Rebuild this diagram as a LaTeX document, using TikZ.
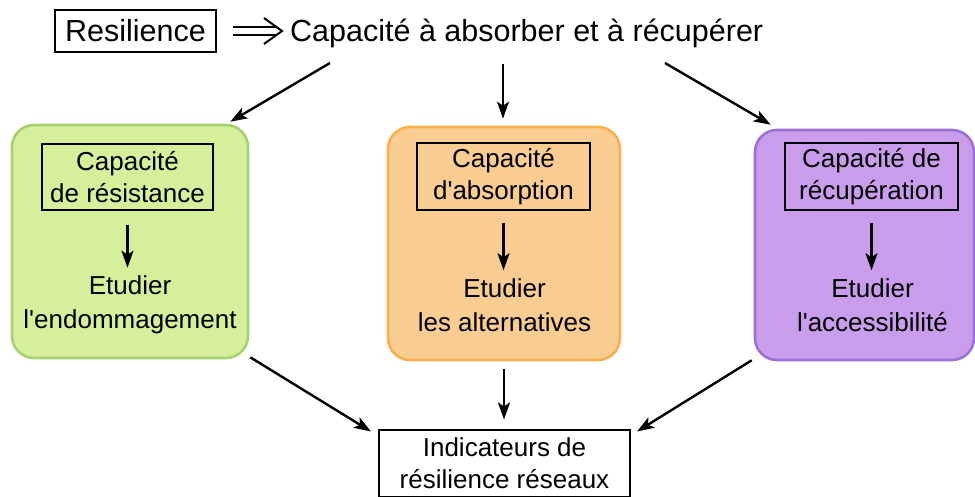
\documentclass[tikz,border=0pt]{standalone}
\usepackage{fontspec}
\setmainfont{Liberation Sans}
\usetikzlibrary{arrows.meta,calc}
\definecolor{gfill}{HTML}{D5EF9B}
\definecolor{gline}{HTML}{A5D170}
\definecolor{ofill}{HTML}{F9CC91}
\definecolor{oline}{HTML}{F6B04E}
\definecolor{pfill}{HTML}{C99DEB}
\definecolor{pline}{HTML}{9D70D6}
\tikzset{
  bigtxt/.style={font=\fontsize{30.5}{36}\selectfont},
  txt/.style={font=\fontsize{26}{32}\selectfont, align=center, inner sep=0pt},
  group/.style={rounded corners=22pt, line width=2.6pt, inner sep=0pt},
  capbox/.style={draw=black, line width=2pt, txt},
  arr/.style={-{Stealth[length=17pt,width=12pt,inset=4pt]}, line width=2.4pt},
  implies/.style={line width=2pt},
}
\begin{document}
\begin{tikzpicture}[x=1pt,y=-1pt]
\useasboundingbox (0,0) rectangle (975,497);
% top
\node[draw, line width=2pt, bigtxt, minimum width=161pt, minimum height=42pt, inner sep=0pt] (res) at (135.5,31) {Resilience};
\node[bigtxt, anchor=west, inner sep=0pt] (cap) at (290,33) {Capacité à absorber et à récupérer};
% double implication arrow from res to cap
\draw[implies] ([shift={(16,-4)}]res.east) -- ([shift={(59,-4)}]res.east);
\draw[implies] ([shift={(16,4)}]res.east) -- ([shift={(59,4)}]res.east);
\draw[implies, line join=miter] ([shift={(47,-13)}]res.east) -- ([shift={(65,0)}]res.east) -- ([shift={(47,13)}]res.east);
% groups
\node[group, draw=gline, fill=gfill, minimum width=236pt, minimum height=233pt] (g) at (130,241.5) {};
\node[group, draw=oline, fill=ofill, minimum width=232pt, minimum height=233pt] (o) at (504,243.5) {};
\node[group, draw=pline, fill=pfill, minimum width=219pt, minimum height=230pt] (p) at (864.5,245) {};
% inner boxes
\node[capbox, minimum width=171pt, minimum height=66pt] (gi) at (127.5,177) {Capacité\\de résistance};
\node[capbox, minimum width=173pt, minimum height=67pt] (oi) at (503.5,176.5) {Capacité\\d\textquotesingle absorption};
\node[capbox, minimum width=173pt, minimum height=67pt] (pi) at (871.5,176.5) {Capacité de\\récupération};
% texts
\node[txt, font=\fontsize{26}{34}\selectfont] (ge) at (130,305) {Etudier\\l\textquotesingle endommagement};
\node[txt, font=\fontsize{26}{34}\selectfont] (oe) at (504.5,305) {Etudier\\les alternatives};
\node[txt, font=\fontsize{26}{34}\selectfont] (pe) at (872.5,305) {Etudier\\l\textquotesingle accessibilité};
% bottom
\node[capbox, minimum width=251pt, minimum height=67pt] (ind) at (504.5,463) {Indicateurs de\\résilience réseaux};
% inner arrows
\draw[arr, shorten <=14pt, shorten >=8pt] (gi.south) -- (gi.south |- ge.north);
\draw[arr, shorten <=12pt, shorten >=8pt] (oi.south) -- (oi.south |- oe.north);
\draw[arr, shorten <=12pt, shorten >=8pt] (pi.south) -- (pi.south |- pe.north);
% top arrows
\coordinate (c1) at (330,63);
\coordinate (c2) at (503,64);
\coordinate (c3) at (665,63);
\draw[arr] (c1) -- ([shift={(-19,-2)}]g.north east);
\draw[arr, shorten >=7pt] (c2) -- (c2 |- o.north);
\draw[arr] (c3) -- ([shift={(17,-4)}]p.north west);
% bottom arrows
\draw[arr] ([shift={(1,-2)}]g.south east) -- ([shift={(-7,3)}]ind.north west);
\draw[arr, shorten <=8pt, shorten >=9pt] (o.south) -- (o.south |- ind.north);
\draw[arr] ([shift={(-2,-1)}]p.south west) -- ([shift={(6,3)}]ind.north east);
\end{tikzpicture}
\end{document}
